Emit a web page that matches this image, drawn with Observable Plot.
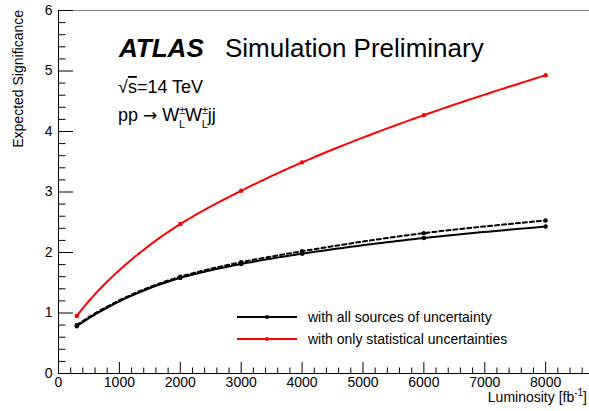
<!DOCTYPE html>
<html>
<head>
<meta charset="utf-8">
<script src="https://cdn.jsdelivr.net/npm/d3@7"></script>
<script src="https://cdn.jsdelivr.net/npm/@observablehq/plot@0.6"></script>
<style>
  html, body { margin: 0; padding: 0; background: #fff; }
  svg { font-family: "Liberation Sans", Arial, sans-serif; }
</style>
</head>
<body>
<div id="chart"></div>
<script>
// ---- data ----
const luminosity = [300, 2000, 3000, 4000, 6000, 8000];
const sigAllSources = [0.78, 1.58, 1.81, 1.98, 2.24, 2.43];
const sigAllSourcesDashed = [0.80, 1.60, 1.84, 2.02, 2.32, 2.53];
const sigStatOnly = [0.95, 2.47, 3.02, 3.49, 4.27, 4.93];
const xMajorTicks = [0, 1000, 2000, 3000, 4000, 5000, 6000, 7000, 8000];
const yMajorTicks = [0, 1, 2, 3, 4, 5, 6];
const legendLabels = ["with all sources of uncertainty", "with only statistical uncertainties"];

const W = 589, H = 411;
const mL = 58, mR = 0, mT = 10, mB = 38;
const plotW = W - mL - mR, plotH = H - mT - mB;

const xMinor = d3.range(0, 8701, 200).filter(v => v % 1000 !== 0);
const yMinor = d3.range(0, 31).map(i => i / 5).filter(v => Math.abs(v - Math.round(v)) > 1e-9);

const rows = (ys) => luminosity.map((x, i) => ({x, y: ys[i]}));
const all = rows(sigAllSources), allD = rows(sigAllSourcesDashed), stat = rows(sigStatOnly);

// Smooth curve through the points: monotone cubic Hermite in a power-warped x space
// (significance grows roughly like a power of luminosity).
const P = 0.65;
class PowMonotone {
  constructor(ctx) { this._ctx = ctx; }
  areaStart() {} areaEnd() {}
  lineStart() { this._p = []; }
  point(x, y) { this._p.push([+x, +y]); }
  lineEnd() {
    const p = this._p, n = p.length, c = this._ctx;
    if (!n) return;
    const u = p.map(d => Math.pow(Math.max(0, d[0] - mL), P)), y = p.map(d => d[1]);
    c.moveTo(p[0][0], p[0][1]);
    if (n < 2) return;
    const m = [];
    for (let i = 0; i < n - 1; i++) m.push((y[i + 1] - y[i]) / (u[i + 1] - u[i]));
    const t = new Array(n);
    t[0] = m[0]; t[n - 1] = m[n - 2];
    for (let i = 1; i < n - 1; i++) {
      if (m[i - 1] * m[i] <= 0) t[i] = 0;
      else {
        const h0 = u[i] - u[i - 1], h1 = u[i + 1] - u[i];
        const w1 = 2 * h1 + h0, w2 = h1 + 2 * h0;
        t[i] = (w1 + w2) / (w1 / m[i - 1] + w2 / m[i]);
      }
    }
    for (let i = 0; i < n - 1; i++) {
      const h = u[i + 1] - u[i];
      const steps = 24;
      for (let k = 1; k <= steps; k++) {
        const s = k / steps, s2 = s * s, s3 = s2 * s;
        const yy = (2 * s3 - 3 * s2 + 1) * y[i] + (s3 - 2 * s2 + s) * h * t[i]
                 + (-2 * s3 + 3 * s2) * y[i + 1] + (s3 - s2) * h * t[i + 1];
        const uu = u[i] + s * h;
        c.lineTo(mL + Math.pow(uu, 1 / P), yy);
      }
    }
  }
}
const curve = (ctx) => new PowMonotone(ctx);

const svg = Plot.plot({
  width: W, height: H,
  marginLeft: mL, marginRight: mR, marginTop: mT, marginBottom: mB,
  style: {fontFamily: "Liberation Sans, Arial, sans-serif", fontSize: "14px", color: "#000", background: "#fff"},
  x: {domain: [0, 8720]},
  y: {domain: [0, 6]},
  marks: [
    Plot.frame({anchor: "top", stroke: "#888", strokeWidth: 1}),
    Plot.axisX({ticks: xMajorTicks, tickSize: 0, tickPadding: 4, fontSize: 14, label: null, tickFormat: d => String(d)}),
    Plot.axisY({ticks: yMajorTicks, tickSize: 0, tickPadding: 6, fontSize: 14, label: null, tickFormat: d => String(d)}),
    Plot.tickX(xMajorTicks, {x: d => d, insetTop: plotH - 11, stroke: "#000", strokeWidth: 1}),
    Plot.tickX(xMinor, {x: d => d, insetTop: plotH - 5.5, stroke: "#000", strokeWidth: 1}),
    Plot.tickY(yMajorTicks, {y: d => d, insetRight: plotW - 15, stroke: "#000", strokeWidth: 1}),
    Plot.tickY(yMinor, {y: d => d, insetRight: plotW - 7.5, stroke: "#000", strokeWidth: 1}),
    Plot.ruleX([0], {stroke: "#000", strokeWidth: 1}),
    Plot.ruleY([0], {stroke: "#000", strokeWidth: 1}),
    Plot.line(allD, {x: "x", y: "y", stroke: "#000", strokeWidth: 2, strokeDasharray: "4,3", curve}),
    Plot.line(all, {x: "x", y: "y", stroke: "#000", strokeWidth: 2, curve}),
    Plot.line(stat, {x: "x", y: "y", stroke: "#ff0000", strokeWidth: 2, curve}),
    Plot.dot(allD, {x: "x", y: "y", fill: "#000", r: 2.2}),
    Plot.dot(all, {x: "x", y: "y", fill: "#000", r: 2.2}),
    Plot.dot(stat, {x: "x", y: "y", fill: "#ff0000", r: 2.2})
  ]
});

const s = d3.select(svg);
const font = "Liberation Sans, Arial, sans-serif";
const txt = () => s.append("text").attr("text-anchor", "start").attr("font-family", font).attr("fill", "#000");

// axis titles
const xt = txt().attr("x", 587).attr("y", 402).attr("font-size", 14).attr("text-anchor", "end");
xt.append("tspan").text("Luminosity [fb");
xt.append("tspan").attr("font-size", 10).attr("dy", -6).text("-1");
xt.append("tspan").attr("dy", 6).text("]");

txt().attr("transform", "translate(23,10) rotate(-90)").attr("text-anchor", "end")
  .attr("font-size", 14).text("Expected Significance");

// ATLAS label
txt().attr("x", 119).attr("y", 57).attr("font-size", 26).attr("font-weight", "bold")
  .attr("font-style", "italic").text("ATLAS");
txt().attr("x", 225).attr("y", 57).attr("font-size", 26).text("Simulation Preliminary");

const sq = txt().attr("x", 118).attr("y", 93).attr("font-size", 18);
sq.append("tspan").text("√");
sq.append("tspan").attr("text-decoration", "overline").text("s");
sq.append("tspan").text("=14 TeV");

const pp = txt().attr("x", 118).attr("y", 121).attr("font-size", 18);
pp.append("tspan").text("pp ");
pp.append("tspan").attr("font-family", "DejaVu Sans").attr("font-size", 17).text("→");
pp.append("tspan").text(" W");
pp.append("tspan").attr("font-size", 11).attr("dy", -7).text("±");
pp.append("tspan").attr("font-size", 11).attr("dx", -6.4).attr("dy", 14).text("L");
pp.append("tspan").attr("dy", -7).text("W");
pp.append("tspan").attr("font-size", 11).attr("dy", -7).text("±");
pp.append("tspan").attr("font-size", 11).attr("dx", -6.4).attr("dy", 14).text("L");
pp.append("tspan").attr("dy", -7).text("jj");

// legend
const legColors = ["#000", "#ff0000"];
legendLabels.forEach((lab, i) => {
  const yy = 317 + i * 22;
  s.append("line").attr("x1", 237).attr("x2", 297).attr("y1", yy).attr("y2", yy)
    .attr("stroke", legColors[i]).attr("stroke-width", 2);
  s.append("circle").attr("cx", 267).attr("cy", yy).attr("r", 2).attr("fill", legColors[i]);
  txt().attr("x", 308).attr("y", yy + 5).attr("font-size", 14).text(lab);
});

document.getElementById("chart").appendChild(svg);
</script>
</body>
</html>
